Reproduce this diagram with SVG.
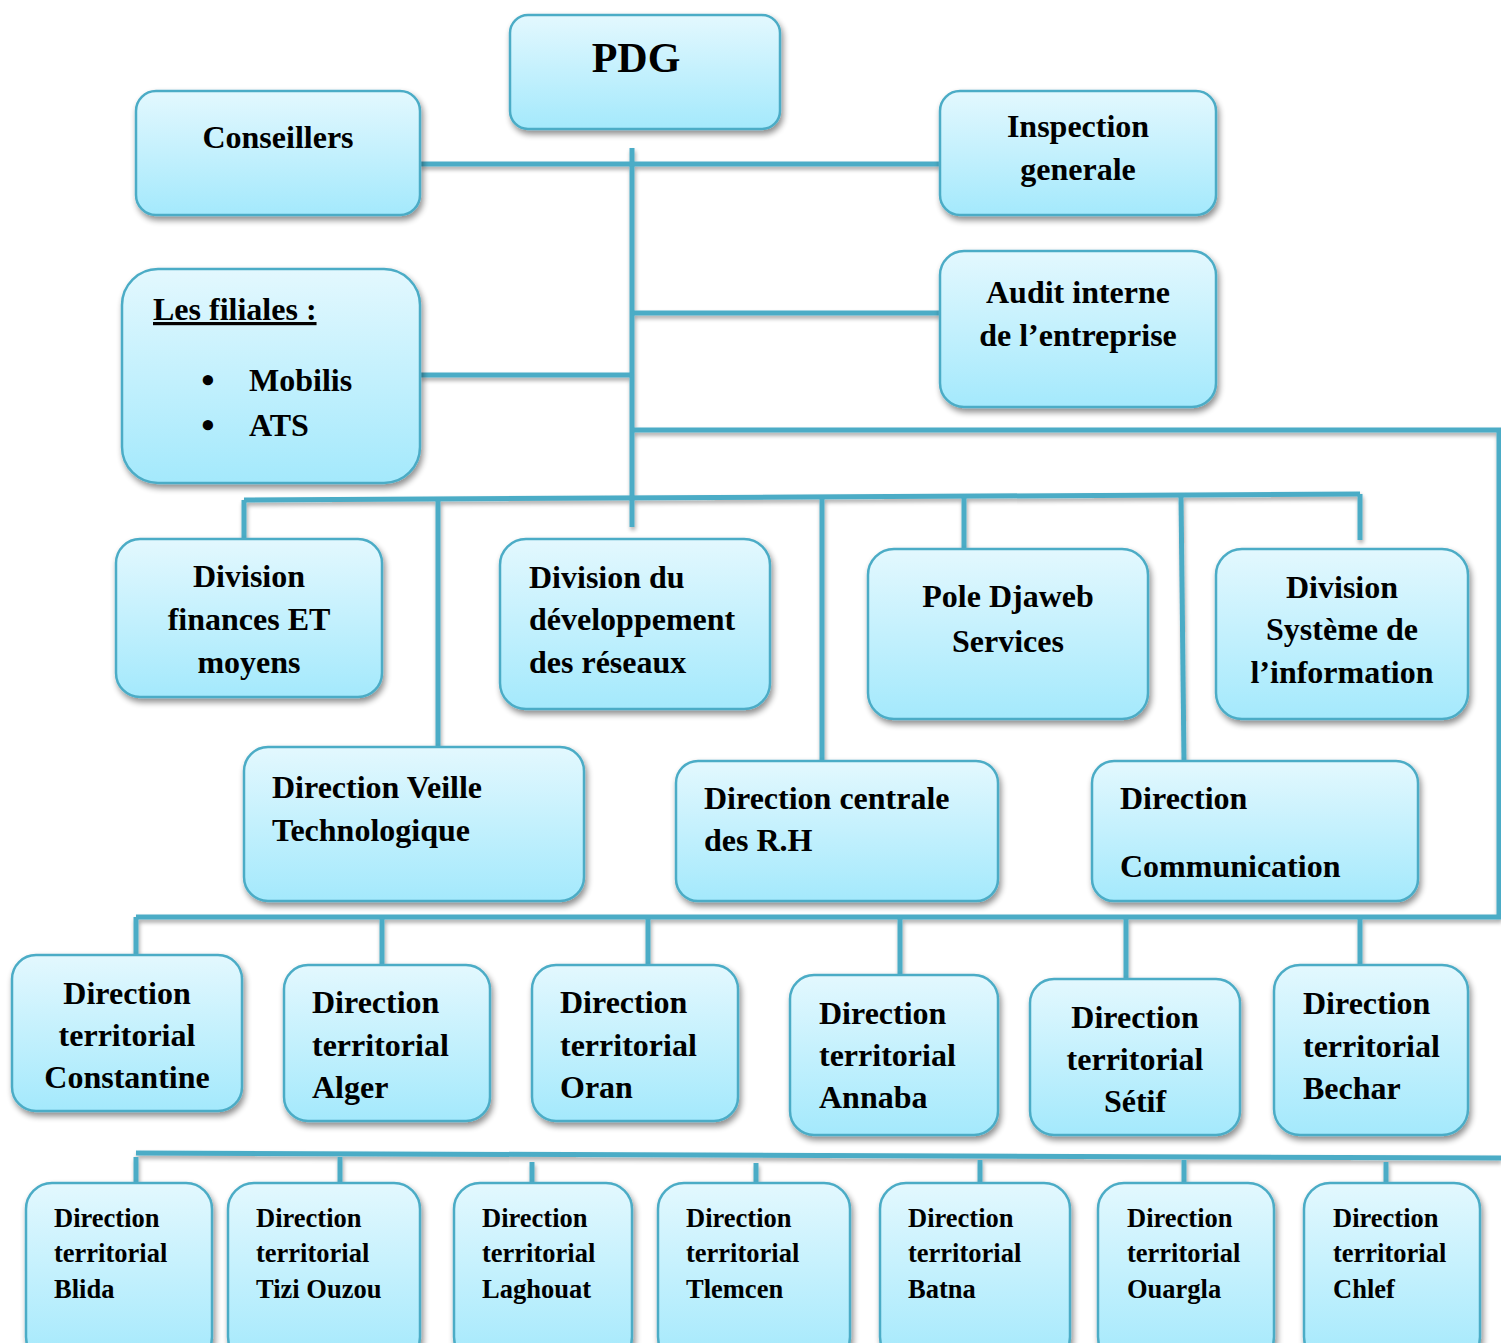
<svg xmlns="http://www.w3.org/2000/svg" width="1501" height="1343" viewBox="0 0 1501 1343">
  <defs>
    <linearGradient id="boxFill" x1="0" y1="0" x2="0" y2="1">
      <stop offset="0" stop-color="#E3F8FE"/>
      <stop offset="1" stop-color="#A4E9FC"/>
    </linearGradient>
    <filter id="boxShadow" x="-10%" y="-10%" width="125%" height="130%">
      <feGaussianBlur in="SourceAlpha" stdDeviation="3"/>
      <feOffset dx="2" dy="4" result="b"/>
      <feComponentTransfer><feFuncA type="linear" slope="0.45"/></feComponentTransfer>
      <feMerge><feMergeNode/><feMergeNode in="SourceGraphic"/></feMerge>
    </filter>
    <filter id="lineShadow" x="-5%" y="-5%" width="110%" height="110%">
      <feGaussianBlur in="SourceAlpha" stdDeviation="2"/>
      <feOffset dx="1" dy="3" result="b"/>
      <feComponentTransfer><feFuncA type="linear" slope="0.35"/></feComponentTransfer>
      <feMerge><feMergeNode/><feMergeNode in="SourceGraphic"/></feMerge>
    </filter>
  </defs>
  <style>
    .box { fill: url(#boxFill); stroke: #4BACC6; stroke-width: 2.5; filter: url(#boxShadow); }
    .lbl { font-family: "Liberation Serif", "Times New Roman", serif; font-weight: bold; font-size: 32px; fill: #000; }
    .mid { text-anchor: middle; }
    .sm { font-size: 26.5px; }
    .big { font-size: 42px; }
    .bullet { font-size: 38px; }
    .conn { fill: none; stroke: #4BACC6; stroke-width: 5; stroke-linecap: butt; }
  </style>
  <rect width="1501" height="1343" fill="#FFFFFF"/>

  <!-- connectors -->
  <g id="connectors" filter="url(#lineShadow)">
    <path class="conn" d="M632 148 V527"/>
    <path class="conn" d="M420 164 H940"/>
    <path class="conn" d="M632 313 H940"/>
    <path class="conn" d="M420 375 H632"/>
    <path class="conn" d="M632 430 H1499 V917"/>
    <path class="conn" d="M244 500 L1360 494"/>
    <path class="conn" d="M244 500 V539"/>
    <path class="conn" d="M438 499 V747"/>
    <path class="conn" d="M822 498 V761"/>
    <path class="conn" d="M964 497 V549"/>
    <path class="conn" d="M1181 496 L1184 761"/>
    <path class="conn" d="M1360 494 V540"/>
    <path class="conn" d="M136 917 H1501"/>
    <path class="conn" d="M136 917 V955"/>
    <path class="conn" d="M382 917 V965"/>
    <path class="conn" d="M648 917 V965"/>
    <path class="conn" d="M900 917 V975"/>
    <path class="conn" d="M1126 917 V979"/>
    <path class="conn" d="M1360 917 V965"/>
    <path class="conn" d="M136 1153 L1501 1158"/>
    <path class="conn" d="M136 1157 V1183"/>
    <path class="conn" d="M340 1157 V1183"/>
    <path class="conn" d="M532 1162 V1183"/>
    <path class="conn" d="M756 1163 V1183"/>
    <path class="conn" d="M980 1160 V1183"/>
    <path class="conn" d="M1184 1160 V1183"/>
    <path class="conn" d="M1386 1162 V1183"/>
  </g>

  <!-- top level -->
  <g id="pdg">
    <rect class="box" x="510" y="15" width="270" height="114" rx="18"/>
    <text class="lbl mid big" x="636" y="72">PDG</text>
  </g>
  <g id="conseillers">
    <rect class="box" x="136" y="91" width="284" height="124" rx="20"/>
    <text class="lbl mid" x="278" y="148">Conseillers</text>
  </g>
  <g id="inspection">
    <rect class="box" x="940" y="91" width="276" height="124" rx="20"/>
    <text class="lbl mid" x="1078" y="137">Inspection</text>
    <text class="lbl mid" x="1078" y="180">generale</text>
  </g>
  <g id="filiales">
    <rect class="box" x="122" y="269" width="298" height="214" rx="36"/>
    <text class="lbl" x="153" y="320" text-decoration="underline">Les filiales :</text>
    <text class="lbl mid bullet" x="208" y="393">•</text>
    <text class="lbl" x="249" y="391">Mobilis</text>
    <text class="lbl mid bullet" x="208" y="438">•</text>
    <text class="lbl" x="249" y="436">ATS</text>
  </g>
  <g id="audit">
    <rect class="box" x="940" y="251" width="276" height="156" rx="24"/>
    <text class="lbl mid" x="1078" y="303">Audit interne</text>
    <text class="lbl mid" x="1078" y="346">de l’entreprise</text>
  </g>

  <!-- divisions -->
  <g id="div-finances">
    <rect class="box" x="116" y="539" width="266" height="158" rx="24"/>
    <text class="lbl mid" x="249" y="587">Division</text>
    <text class="lbl mid" x="249" y="630">finances ET</text>
    <text class="lbl mid" x="249" y="673">moyens</text>
  </g>
  <g id="div-reseaux">
    <rect class="box" x="500" y="539" width="270" height="170" rx="26"/>
    <text class="lbl" x="529" y="588">Division du</text>
    <text class="lbl" x="529" y="630">développement</text>
    <text class="lbl" x="529" y="673">des réseaux</text>
  </g>
  <g id="pole-djaweb">
    <rect class="box" x="868" y="549" width="280" height="170" rx="26"/>
    <text class="lbl mid" x="1008" y="607">Pole Djaweb</text>
    <text class="lbl mid" x="1008" y="652">Services</text>
  </g>
  <g id="div-si">
    <rect class="box" x="1216" y="549" width="252" height="170" rx="26"/>
    <text class="lbl mid" x="1342" y="598">Division</text>
    <text class="lbl mid" x="1342" y="640">Système de</text>
    <text class="lbl mid" x="1342" y="683">l’information</text>
  </g>
  <g id="dir-veille">
    <rect class="box" x="244" y="747" width="340" height="154" rx="24"/>
    <text class="lbl" x="272" y="798">Direction Veille</text>
    <text class="lbl" x="272" y="841">Technologique</text>
  </g>
  <g id="dir-rh">
    <rect class="box" x="676" y="761" width="322" height="140" rx="22"/>
    <text class="lbl" x="704" y="809">Direction centrale</text>
    <text class="lbl" x="704" y="851">des R.H</text>
  </g>
  <g id="dir-communication">
    <rect class="box" x="1092" y="761" width="326" height="140" rx="22"/>
    <text class="lbl" x="1120" y="809">Direction</text>
    <text class="lbl" x="1120" y="877">Communication</text>
  </g>

  <!-- territorial directions, first row -->
  <g id="dt-constantine">
    <rect class="box" x="12" y="955" width="230" height="156" rx="24"/>
    <text class="lbl mid" x="127" y="1004">Direction</text>
    <text class="lbl mid" x="127" y="1046">territorial</text>
    <text class="lbl mid" x="127" y="1088">Constantine</text>
  </g>
  <g id="dt-alger">
    <rect class="box" x="284" y="965" width="206" height="156" rx="24"/>
    <text class="lbl" x="312" y="1013">Direction</text>
    <text class="lbl" x="312" y="1056">territorial</text>
    <text class="lbl" x="312" y="1098">Alger</text>
  </g>
  <g id="dt-oran">
    <rect class="box" x="532" y="965" width="206" height="156" rx="24"/>
    <text class="lbl" x="560" y="1013">Direction</text>
    <text class="lbl" x="560" y="1056">territorial</text>
    <text class="lbl" x="560" y="1098">Oran</text>
  </g>
  <g id="dt-annaba">
    <rect class="box" x="790" y="975" width="208" height="160" rx="24"/>
    <text class="lbl" x="819" y="1024">Direction</text>
    <text class="lbl" x="819" y="1066">territorial</text>
    <text class="lbl" x="819" y="1108">Annaba</text>
  </g>
  <g id="dt-setif">
    <rect class="box" x="1030" y="979" width="210" height="156" rx="24"/>
    <text class="lbl mid" x="1135" y="1028">Direction</text>
    <text class="lbl mid" x="1135" y="1070">territorial</text>
    <text class="lbl mid" x="1135" y="1112">Sétif</text>
  </g>
  <g id="dt-bechar">
    <rect class="box" x="1274" y="965" width="194" height="170" rx="26"/>
    <text class="lbl" x="1303" y="1014">Direction</text>
    <text class="lbl" x="1303" y="1057">territorial</text>
    <text class="lbl" x="1303" y="1099">Bechar</text>
  </g>

  <!-- territorial directions, second row -->
  <g id="dt-blida">
    <rect class="box" x="26" y="1183" width="186" height="180" rx="26"/>
    <text class="lbl sm" x="54" y="1227">Direction</text>
    <text class="lbl sm" x="54" y="1262">territorial</text>
    <text class="lbl sm" x="54" y="1298">Blida</text>
  </g>
  <g id="dt-tizi-ouzou">
    <rect class="box" x="228" y="1183" width="192" height="180" rx="26"/>
    <text class="lbl sm" x="256" y="1227">Direction</text>
    <text class="lbl sm" x="256" y="1262">territorial</text>
    <text class="lbl sm" x="256" y="1298">Tizi Ouzou</text>
  </g>
  <g id="dt-laghouat">
    <rect class="box" x="454" y="1183" width="178" height="180" rx="26"/>
    <text class="lbl sm" x="482" y="1227">Direction</text>
    <text class="lbl sm" x="482" y="1262">territorial</text>
    <text class="lbl sm" x="482" y="1298">Laghouat</text>
  </g>
  <g id="dt-tlemcen">
    <rect class="box" x="658" y="1183" width="192" height="180" rx="26"/>
    <text class="lbl sm" x="686" y="1227">Direction</text>
    <text class="lbl sm" x="686" y="1262">territorial</text>
    <text class="lbl sm" x="686" y="1298">Tlemcen</text>
  </g>
  <g id="dt-batna">
    <rect class="box" x="880" y="1183" width="190" height="180" rx="26"/>
    <text class="lbl sm" x="908" y="1227">Direction</text>
    <text class="lbl sm" x="908" y="1262">territorial</text>
    <text class="lbl sm" x="908" y="1298">Batna</text>
  </g>
  <g id="dt-ouargla">
    <rect class="box" x="1098" y="1183" width="176" height="180" rx="26"/>
    <text class="lbl sm" x="1127" y="1227">Direction</text>
    <text class="lbl sm" x="1127" y="1262">territorial</text>
    <text class="lbl sm" x="1127" y="1298">Ouargla</text>
  </g>
  <g id="dt-chlef">
    <rect class="box" x="1304" y="1183" width="176" height="180" rx="26"/>
    <text class="lbl sm" x="1333" y="1227">Direction</text>
    <text class="lbl sm" x="1333" y="1262">territorial</text>
    <text class="lbl sm" x="1333" y="1298">Chlef</text>
  </g>
</svg>
